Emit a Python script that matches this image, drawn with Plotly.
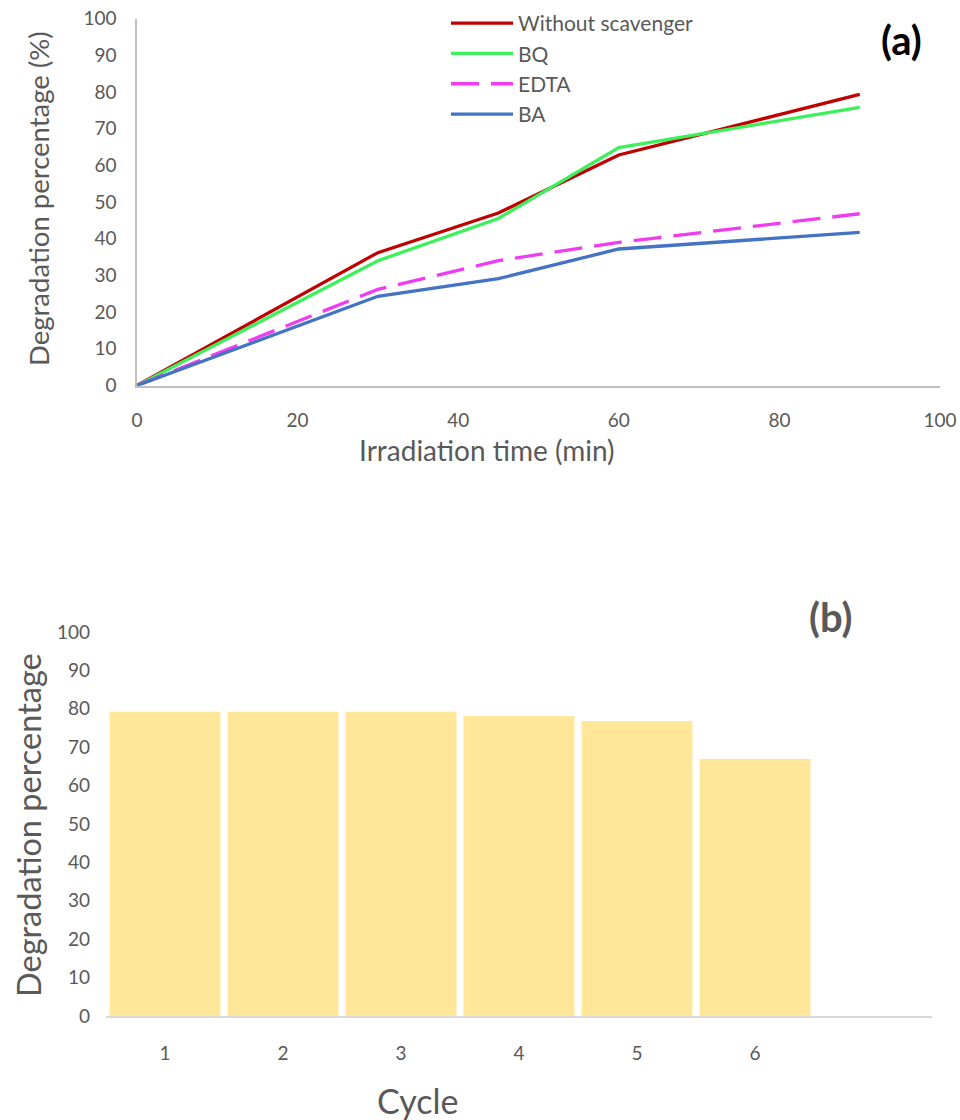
import plotly.graph_objects as go

# Panel (a): degradation over irradiation time with different scavengers
time_min = [0, 30, 45, 60, 90]
without_scavenger = [0, 36.2, 47.0, 62.8, 79.3]
bq = [0, 34.0, 45.5, 64.8, 75.8]
edta = [0, 26.2, 34.0, 39.0, 46.8]
ba = [0, 24.3, 29.1, 37.2, 41.7]

# Panel (b): reusability over repeated cycles
cycles = [1, 2, 3, 4, 5, 6]
cycle_degradation = [79.2, 79.2, 79.2, 78.1, 76.8, 66.9]

FONT = "Lato"
GRAY = "#595959"
W, H = 960, 1120


def px(x):
    """Pixel x (from left) -> paper coordinate."""
    return x / W


def py(y):
    """Pixel y (from top) -> paper coordinate."""
    return 1 - y / H


fig = go.Figure()

series = [
    ("Without scavenger", without_scavenger, "#C00000", "solid"),
    ("BQ", bq, "#3CF05A", "solid"),
    ("EDTA", edta, "#F03CF0", "28px,12px"),
    ("BA", ba, "#4472C4", "solid"),
]
for name, vals, color, dash in series:
    fig.add_trace(go.Scatter(
        x=time_min, y=vals, name=name, mode="lines",
        line=dict(color=color, width=3.3, dash=dash),
        xaxis="x", yaxis="y",
    ))

fig.add_trace(go.Bar(
    x=cycles, y=cycle_degradation, marker=dict(color="#FFE699", line=dict(width=0)),
    showlegend=False, xaxis="x2", yaxis="y2",
))

tickfont = dict(family=FONT, size=19, color=GRAY)
axis_common = dict(showgrid=False, zeroline=False, ticks="", automargin=False,
                   tickfont=tickfont)


def label(text, x, y, size, color=GRAY, angle=0):
    return dict(text=text, x=px(x), y=py(y), xref="paper", yref="paper",
                xanchor="center", yanchor="middle", showarrow=False,
                textangle=angle, font=dict(family=FONT, size=size, color=color))


fig.update_layout(
    width=W, height=H,
    margin=dict(l=0, r=0, t=0, b=0, autoexpand=False),
    paper_bgcolor="white", plot_bgcolor="white",
    font=dict(family=FONT, color=GRAY),
    bargap=0.06,
    xaxis=dict(domain=[px(137), px(940)], range=[0, 100], dtick=20,
               showline=True, linecolor="#BFBFBF", linewidth=1.5,
               ticklabelstandoff=17, ticklabeloverflow="allow",
               anchor="y", **axis_common),
    yaxis=dict(domain=[py(385.5), py(18.5)], range=[0, 100], dtick=10,
               showline=True, linecolor="#BFBFBF", linewidth=1.5,
               ticklabelstandoff=15, anchor="x", **axis_common),
    xaxis2=dict(domain=[px(106), px(932)], range=[0.5, 7.5],
                tickvals=cycles, ticktext=[str(c) for c in cycles],
                showline=True, linecolor="#D9D9D9", linewidth=2,
                ticklabelstandoff=19, anchor="y2", **axis_common),
    yaxis2=dict(domain=[py(1016), py(632)], range=[0, 100], dtick=10,
                showline=False, ticklabelstandoff=15, anchor="x2", **axis_common),
    legend=dict(x=px(446), y=py(3), xanchor="left", yanchor="top",
                font=dict(family=FONT, size=21, color=GRAY),
                bgcolor="rgba(0,0,0,0)", itemwidth=62),
    annotations=[
        label("Irradiation time (min)", 487, 450, 28),
        label("Degradation percentage (%)", 38, 199, 27.5, angle=-90),
        label("<b>(a)</b>", 901, 40, 40, color="black"),
        label("Cycle", 417, 1100, 34),
        label("Degradation percentage", 28, 825, 32.5, angle=-90),
        label("<b>(b)</b>", 831, 617, 40),
    ],
)

fig.write_html("out.html")
